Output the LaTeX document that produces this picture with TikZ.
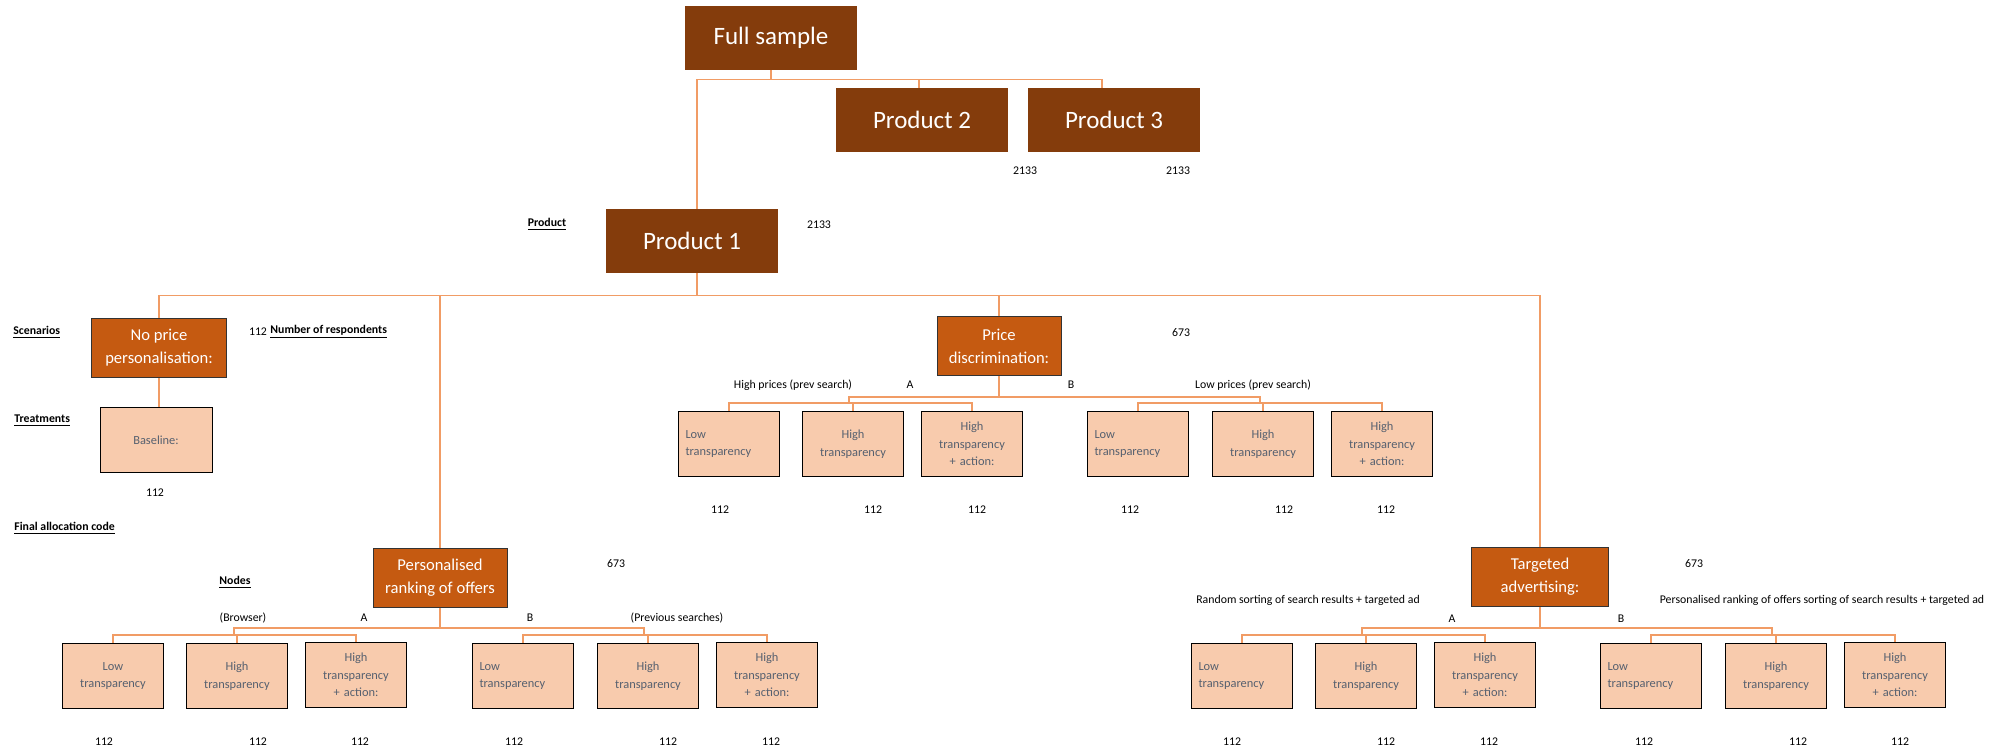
\documentclass[tikz,border=0pt]{standalone}
\usepackage{fontspec}
\setmainfont{Carlito}
\usetikzlibrary{positioning}
\definecolor{prodbrown}{HTML}{843C0C}
\definecolor{scenorange}{HTML}{C55A11}
\definecolor{treatpeach}{HTML}{F8CBAD}
\definecolor{treatgrey}{HTML}{56606F}
\definecolor{connorange}{HTML}{F19C65}
\tikzset{
  prod/.style={fill=prodbrown, text=white, minimum width=86pt, minimum height=32pt,
               inner sep=0pt, font=\fontsize{12.5}{15}\selectfont},
  scen/.style={draw=black!80, line width=0.5pt, fill=scenorange, text=white, align=center,
               minimum height=29.5pt, inner sep=0pt, font=\fontsize{8.3}{11.4}\selectfont},
  treat/.style={draw=black, line width=0.5pt, fill=treatpeach, text=treatgrey, align=center,
                minimum height=32.5pt, text width=43.5pt, inner xsep=3.5pt, inner ysep=0pt,
                font=\fontsize{6.2}{8.8}\selectfont},
  treatl/.style={treat, align=left},
  conn/.style={draw=connorange, line width=0.75pt},
  lbl/.style={inner sep=0pt, font=\fontsize{5.9}{7}\selectfont},
  hdr/.style={lbl, font=\fontsize{5.9}{7}\selectfont\bfseries},
}
\begin{document}
\begin{tikzpicture}[x=0.5pt, y=-0.5pt]
  \useasboundingbox (0,0) rectangle (2011,752);
  % products
  \node[prod] (fs) at (771,38) {Full sample};
  \node[prod] (p2) at (922,120) {Product 2};
  \node[prod] (p3) at (1114,120) {Product 3};
  \node[prod] (p1) at (692,241) {Product 1};
  \node[lbl] (np2) at (1025,171) {2133};
  \node[lbl] (np3) at (1178,171) {2133};
  \node[lbl] (np1) at (819,225) {2133};
  \node[hdr] (hprod) at (547,224) {\underline{Product}};
  \draw[conn] (fs.south) -- ++(0,9) -| ([xshift=2.5pt]p1.north);
  \draw[conn] (fs.south) -- ++(0,9) -| ([xshift=-1.5pt]p2.north);
  \draw[conn] (fs.south) -- ++(0,9) -| ([xshift=-6pt]p3.north);
  % scenarios
  \node[scen, minimum width=67.5pt] (nopr) at (159,348) {No price\\personalisation:};
  \node[scen, minimum width=62pt] (disc) at (999,346) {Price\\discrimination:};
  \node[scen, minimum width=67pt] (rank) at (440,578) {Personalised\\ranking of offers};
  \node[scen, minimum width=68.5pt] (targ) at (1540,577) {Targeted\\advertising:};
  \draw[conn] ([xshift=2.5pt]p1.south) -- ++(0,22) -| (nopr.north);
  \draw[conn] ([xshift=2.5pt]p1.south) -- ++(0,22) -| (rank.north);
  \draw[conn] ([xshift=2.5pt]p1.south) -- ++(0,22) -| (disc.north);
  \draw[conn] ([xshift=2.5pt]p1.south) -- ++(0,22) -| (targ.north);
  % left headers
  \node[hdr, anchor=west] (hscen) at (13,332) {\underline{Scenarios}};
  \node[hdr, anchor=west] (htreat) at (14,421) {\underline{Treatments}};
  \node[hdr, anchor=west] (hfinal) at (14,528) {\underline{Final allocation code}};
  \node[hdr] (hnodes) at (235,582) {\underline{Nodes}};
  \node[lbl] (nnopr) at (258,332) {112};
  \node[hdr, anchor=west] (hresp) at (270,332) {\underline{Number of respondents}};
  \node[lbl] (ndisc) at (1181,333) {673};
  \node[lbl] (nrank) at (616,564) {673};
  \node[lbl] (ntarg) at (1694,564) {673};
  % no price personalisation
  \node[treat, text width=49pt] (base) at (156,440) {Baseline:};
  \draw[conn] (nopr.south) -- (nopr.south |- base.north);
  \node[lbl] (nbase) at (155,493) {112};
  % price discrimination
  \node[lbl] (ldA) at (793,385) {High prices (prev search)};
  \node[lbl] (lA1) at (910,385) {A};
  \node[lbl] (lB1) at (1071,385) {B};
  \node[lbl] (ldB) at (1253,385) {Low prices (prev search)};
  \coordinate (dA) at (849,403);
  \coordinate (dB) at (1260,403);
  \node[treatl] (dA1) at (729,444) {Low\\transparency};
  \node[treat] (dA2) at (853,444) {High\\transparency};
  \node[treat] (dA3) at (972,444) {High\\transparency\\+ action:};
  \node[treatl] (dB1) at (1138,444) {Low\\transparency};
  \node[treat] (dB2) at (1263,444) {High\\transparency};
  \node[treat] (dB3) at (1382,444) {High\\transparency\\+ action:};
  \draw[conn] (disc.south) -- ++(0,21) -| (dA);
  \draw[conn] (disc.south) -- ++(0,21) -| (dB);
  \draw[conn] (dA) -| (dA1.north);
  \draw[conn] (dA) -| (dA2.north);
  \draw[conn] (dA) -| (dA3.north);
  \draw[conn] (dB) -| (dB1.north);
  \draw[conn] (dB) -| (dB2.north);
  \draw[conn] (dB) -| (dB3.north);
  \node[lbl] (ndA1) at (720,510) {112};
  \node[lbl] (ndA2) at (873,510) {112};
  \node[lbl] (ndA3) at (977,510) {112};
  \node[lbl] (ndB1) at (1130,510) {112};
  \node[lbl] (ndB2) at (1284,510) {112};
  \node[lbl] (ndB3) at (1386,510) {112};
  % personalised ranking
  \node[lbl] (lrA) at (243,618) {(Browser)};
  \node[lbl] (lA2) at (364,618) {A};
  \node[lbl] (lB2) at (530,618) {B};
  \node[lbl] (lrB) at (677,618) {(Previous searches)};
  \coordinate (rA) at (234,635);
  \coordinate (rB) at (644,635);
  \node[treat] (rA1) at (113,676) {Low\\transparency};
  \node[treat] (rA2) at (237,676) {High\\transparency};
  \node[treat] (rA3) at (356,675) {High\\transparency\\+ action:};
  \node[treatl] (rB1) at (523,676) {Low\\transparency};
  \node[treat] (rB2) at (648,676) {High\\transparency};
  \node[treat] (rB3) at (767,675) {High\\transparency\\+ action:};
  \draw[conn] (rank.south) -- ++(0,20) -| (rA);
  \draw[conn] (rank.south) -- ++(0,20) -| (rB);
  \draw[conn] (rA) -| (rA1.north);
  \draw[conn] (rA) -| (rA2.north);
  \draw[conn] (rA) -| (rA3.north);
  \draw[conn] (rB) -| (rB1.north);
  \draw[conn] (rB) -| (rB2.north);
  \draw[conn] (rB) -| (rB3.north);
  \node[lbl] (nrA1) at (104,742) {112};
  \node[lbl] (nrA2) at (258,742) {112};
  \node[lbl] (nrA3) at (360,742) {112};
  \node[lbl] (nrB1) at (514,742) {112};
  \node[lbl] (nrB2) at (668,742) {112};
  \node[lbl] (nrB3) at (771,742) {112};
  % targeted advertising
  \node[lbl] (ltA) at (1308,600) {Random sorting of search results + targeted ad};
  \node[lbl] (ltB) at (1822,600) {Personalised ranking of offers sorting of search results + targeted ad};
  \node[lbl] (lA3) at (1452,619) {A};
  \node[lbl] (lB3) at (1621,619) {B};
  \coordinate (tA) at (1362,635);
  \coordinate (tB) at (1772,635);
  \node[treatl] (tA1) at (1242,676) {Low\\transparency};
  \node[treat] (tA2) at (1366,676) {High\\transparency};
  \node[treat] (tA3) at (1485,675) {High\\transparency\\+ action:};
  \node[treatl] (tB1) at (1651,676) {Low\\transparency};
  \node[treat] (tB2) at (1776,676) {High\\transparency};
  \node[treat] (tB3) at (1895,675) {High\\transparency\\+ action:};
  \draw[conn] (targ.south) -- ++(0,21) -| (tA);
  \draw[conn] (targ.south) -- ++(0,21) -| (tB);
  \draw[conn] (tA) -| (tA1.north);
  \draw[conn] (tA) -| (tA2.north);
  \draw[conn] (tA) -| (tA3.north);
  \draw[conn] (tB) -| (tB1.north);
  \draw[conn] (tB) -| (tB2.north);
  \draw[conn] (tB) -| (tB3.north);
  \node[lbl] (ntA1) at (1232,742) {112};
  \node[lbl] (ntA2) at (1386,742) {112};
  \node[lbl] (ntA3) at (1489,742) {112};
  \node[lbl] (ntB1) at (1644,742) {112};
  \node[lbl] (ntB2) at (1798,742) {112};
  \node[lbl] (ntB3) at (1900,742) {112};
\end{tikzpicture}
\end{document}
